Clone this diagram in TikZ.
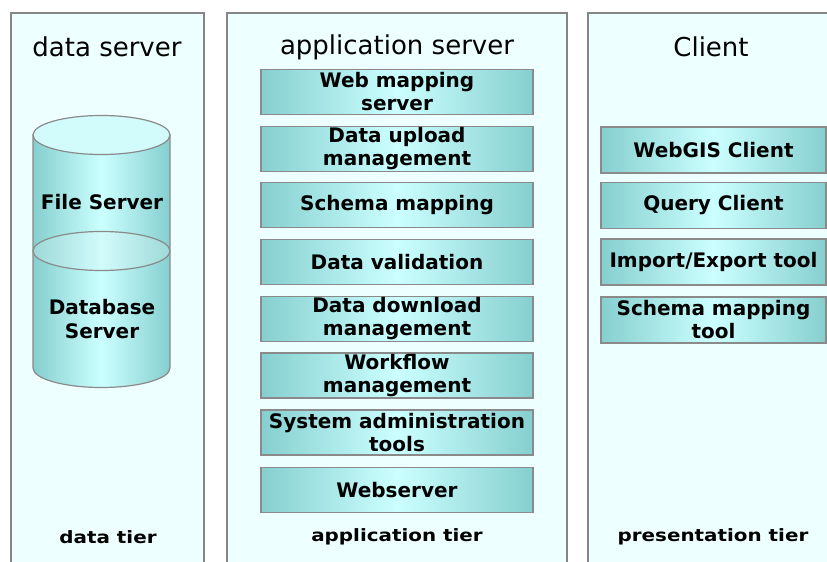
\documentclass[tikz,border=0pt]{standalone}
\usepackage{fontspec}
\setmainfont{DejaVu Sans}
\newfontfamily\tierfont[FakeStretch=1.17]{DejaVu Sans Bold}
\definecolor{panelfill}{HTML}{EEFFFF}
\definecolor{panelgray}{HTML}{858585}
\definecolor{boxgray}{HTML}{8A8A8A}
\definecolor{tealedge}{HTML}{86CFCF}
\definecolor{tealmid}{HTML}{CCFFFF}
\definecolor{lidfill}{HTML}{D2FBFB}
\begin{document}
\begin{tikzpicture}[x=1pt,y=-1pt,
  panel/.style={draw=panelgray, line width=1.6pt, fill=panelfill},
  comp/.style={draw=boxgray, line width=1.4pt,
    left color=tealedge, right color=tealedge, middle color=tealmid,
    align=center, inner sep=0pt,
    font=\bfseries\fontsize{20}{23}\selectfont},
  appbox/.style={comp, minimum width=272pt, minimum height=45pt},
  clientbox/.style={comp, minimum width=225pt, minimum height=46pt},
  title/.style={font=\fontsize{26}{29}\selectfont},
  tier/.style={font=\tierfont\fontsize{17}{20}\selectfont},
  cylinder label/.style={font=\bfseries\fontsize{20}{24}\selectfont, align=center}
]
\useasboundingbox (0,0) rectangle (827,562);
\clip (0,0) rectangle (827,562);
\fill[white] (0,0) rectangle (827,562);

% three tier panels
\draw[panel] (11,13) rectangle (204,575);
\draw[panel] (227,13) rectangle (567,575);
\draw[panel] (588,13) rectangle (850,575);

% panel titles
\node[title] (tdata) at (107,47) {data server};
\node[title] (tapp)  at (397,47) {application server};
\node[title] (tcli)  at (711,47) {Client};

% tier labels
\node[tier] (ldata) at (108,537) {data tier};
\node[tier] (lapp)  at (397,537) {application tier};
\node[tier] (lcli)  at (713,537) {presentation tier};

% storage cylinder
\path[draw=boxgray, line width=1.2pt, left color=tealedge, right color=tealedge, middle color=tealmid]
  (33,135) -- (33,368) arc[start angle=180, end angle=0, x radius=68.5, y radius=19.5]
  -- (170,135) -- cycle;
\draw[boxgray, line width=1.2pt, fill=lidfill] (101.5,135) ellipse[x radius=68.5, y radius=19.5];
\draw[boxgray, line width=1.2pt, left color=tealedge!80, right color=tealedge!80, middle color=lidfill]
  (101.5,251) ellipse[x radius=68.5, y radius=19.5];
\node[cylinder label] (fs) at (102,202) {File Server};
\node[cylinder label] (db) at (102,319) {Database\\Server};

% application server components
\node[appbox] (a1) at (397,92)    {Web mapping\\server};
\node[appbox] (a2) at (397,149)   {Data upload\\management};
\node[appbox] (a3) at (397,205)   {Schema mapping};
\node[appbox] (a4) at (397,262)   {Data validation};
\node[appbox] (a5) at (397,319)   {Data download\\management};
\node[appbox] (a6) at (397,375.5) {Workflow\\management};
\node[appbox] (a7) at (397,432.5) {System administration\\tools};
\node[appbox] (a8) at (397,490)   {Webserver};

% client components
\node[clientbox] (c1) at (713.5,150)   {WebGIS Client};
\node[clientbox] (c2) at (713.5,205.5) {Query Client};
\node[clientbox] (c3) at (713.5,262)   {Import/Export tool};
\node[clientbox] (c4) at (713.5,320)   {Schema mapping\\tool};
\end{tikzpicture}
\end{document}
